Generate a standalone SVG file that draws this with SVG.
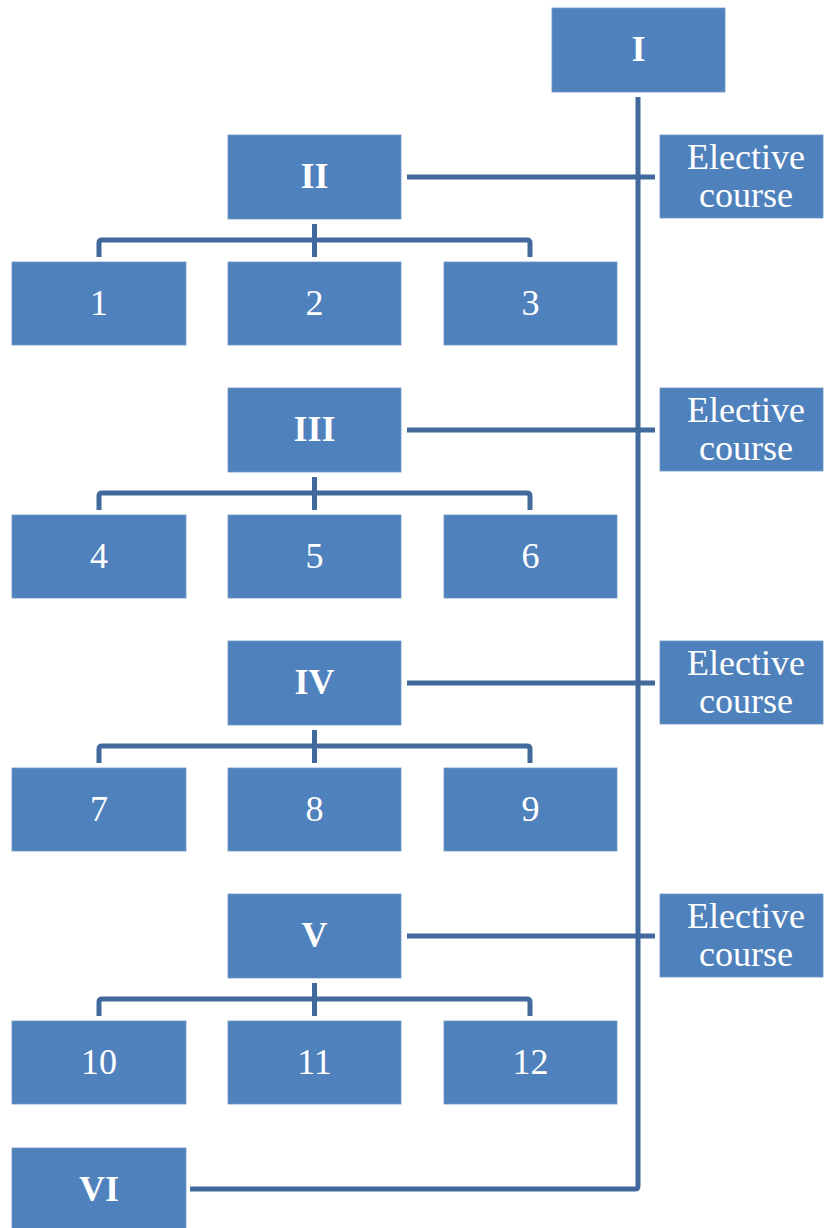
<svg xmlns="http://www.w3.org/2000/svg" width="824" height="1228" viewBox="0 0 824 1228">
<style>
.box{fill:#4F81BD;stroke:#6F97C8;stroke-width:0.8}
.t{font-family:"Liberation Serif","Times New Roman",serif;font-size:36px;fill:#fff;text-anchor:middle}
.b{font-weight:bold}
.c{fill:none;stroke:#41699B;stroke-width:5;stroke-linejoin:round}
</style>
<rect width="824" height="1228" fill="#fff"/>
<g id="connectors">
<path class="c" d="M638 97 V1186 Q638 1189 635 1189 H190"/>
<path class="c" d="M407 177 H655"/>
<path class="c" d="M407 430 H655"/>
<path class="c" d="M407 683 H655"/>
<path class="c" d="M407 936 H655"/>
<path class="c" d="M99 257 V243 Q99 240 102 240 H527 Q530 240 530 243 V257 M314.5 224 V257"/>
<path class="c" d="M99 510 V496 Q99 493 102 493 H527 Q530 493 530 496 V510 M314.5 477 V510"/>
<path class="c" d="M99 763 V749 Q99 746 102 746 H527 Q530 746 530 749 V763 M314.5 730 V763"/>
<path class="c" d="M99 1016 V1002 Q99 999 102 999 H527 Q530 999 530 1002 V1016 M314.5 983 V1016"/>
</g>
<g id="nI"><rect class="box" x="552" y="8" width="173" height="84"/><text class="t b" x="638.5" y="61">I</text></g>
<g id="nII"><rect class="box" x="228" y="135" width="173" height="84"/><text class="t b" x="314.5" y="188">II</text></g>
<g id="nIII"><rect class="box" x="228" y="388" width="173" height="84"/><text class="t b" x="314.5" y="441">III</text></g>
<g id="nIV"><rect class="box" x="228" y="641" width="173" height="84"/><text class="t b" x="314.5" y="694">IV</text></g>
<g id="nV"><rect class="box" x="228" y="894" width="173" height="84"/><text class="t b" x="314.5" y="947">V</text></g>
<g id="nVI"><rect class="box" x="12" y="1148" width="174" height="84"/><text class="t b" x="99" y="1201">VI</text></g>
<g id="e1"><rect class="box" x="660" y="135" width="163" height="83"/><text class="t" x="746" y="169">Elective</text><text class="t" x="746" y="207">course</text></g>
<g id="e2"><rect class="box" x="660" y="388" width="163" height="83"/><text class="t" x="746" y="422">Elective</text><text class="t" x="746" y="460">course</text></g>
<g id="e3"><rect class="box" x="660" y="641" width="163" height="83"/><text class="t" x="746" y="675">Elective</text><text class="t" x="746" y="713">course</text></g>
<g id="e4"><rect class="box" x="660" y="894" width="163" height="83"/><text class="t" x="746" y="928">Elective</text><text class="t" x="746" y="966">course</text></g>
<g id="n1"><rect class="box" x="12" y="262" width="174" height="83"/><text class="t" x="99" y="315">1</text></g>
<g id="n2"><rect class="box" x="228" y="262" width="173" height="83"/><text class="t" x="314.5" y="315">2</text></g>
<g id="n3"><rect class="box" x="444" y="262" width="173" height="83"/><text class="t" x="530.5" y="315">3</text></g>
<g id="n4"><rect class="box" x="12" y="515" width="174" height="83"/><text class="t" x="99" y="568">4</text></g>
<g id="n5"><rect class="box" x="228" y="515" width="173" height="83"/><text class="t" x="314.5" y="568">5</text></g>
<g id="n6"><rect class="box" x="444" y="515" width="173" height="83"/><text class="t" x="530.5" y="568">6</text></g>
<g id="n7"><rect class="box" x="12" y="768" width="174" height="83"/><text class="t" x="99" y="821">7</text></g>
<g id="n8"><rect class="box" x="228" y="768" width="173" height="83"/><text class="t" x="314.5" y="821">8</text></g>
<g id="n9"><rect class="box" x="444" y="768" width="173" height="83"/><text class="t" x="530.5" y="821">9</text></g>
<g id="n10"><rect class="box" x="12" y="1021" width="174" height="83"/><text class="t" x="99" y="1074">10</text></g>
<g id="n11"><rect class="box" x="228" y="1021" width="173" height="83"/><text class="t" x="314.5" y="1074">11</text></g>
<g id="n12"><rect class="box" x="444" y="1021" width="173" height="83"/><text class="t" x="530.5" y="1074">12</text></g>
</svg>
